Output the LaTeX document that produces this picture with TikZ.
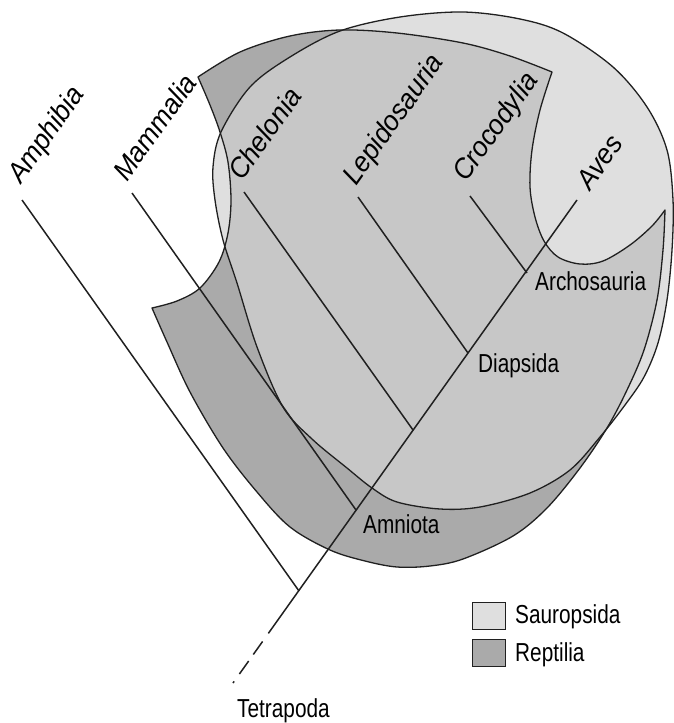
\documentclass[tikz,border=0pt]{standalone}
\usepackage{fontspec}
\setmainfont{Liberation Sans}
\newfontfamily\cladefont{Liberation Sans}[FakeStretch=0.8]
\newfontfamily\taxonfont{Liberation Sans}[FakeStretch=0.95]
\usetikzlibrary{calc}

\definecolor{sauroFill}{HTML}{DFDFDF}
\definecolor{reptFill}{HTML}{AAAAAA}
\definecolor{bothFill}{HTML}{C7C7C7}
\definecolor{inkline}{HTML}{202020}

\begin{document}
\begin{tikzpicture}[x=1pt,y=-1pt,
  outline/.style={draw=inkline, line width=1.3pt, line join=round},
  branch/.style={draw=inkline, line width=1.5pt},
  taxon/.style={anchor=base west, inner sep=0pt, rotate=54.5,
    font=\taxonfont\itshape\fontsize{28}{30}\selectfont},
  clade/.style={anchor=base west, inner sep=0pt,
    font=\cladefont\fontsize{26}{30}\selectfont},
  legendbox/.style={draw=inkline, line width=1.3pt, anchor=north west,
    minimum width=33pt, minimum height=27pt, inner sep=0pt}
]
\useasboundingbox (0,0) rectangle (674,723);

% ---- Sauropsida: smooth closed outline
\path[save path=\sauro]
  plot[smooth cycle, tension=0.55] coordinates {
    (340,31) (400,17) (463,12) (520,19) (563,33) (613,67) (647,107)
    (667,150) (673,200) (672,250) (667,300) (658,343) (644,377)
    (625,405) (600,437) (570,470) (530,493) (480,507) (440,509)
    (397,502) (372,488) (347,468) (312,439) (283,407) (257,347)
    (237,283) (223,240) (215,200) (213,167) (221,132) (250,87) (290,57)};

% ---- Reptilia: four curved sides with sharp corners
\path[save path=\rept]
  plot[smooth, tension=0.55] coordinates {
    (198,77) (240,52) (290,36) (340,30) (397,33) (463,43) (510,56) (552,72)}
  -- plot[smooth, tension=0.55] coordinates {
    (552,72) (540,110) (532,150) (530,187) (535,217) (544,241) (558,257)
    (580,264) (603,261) (630,245) (652,226) (665,210)}
  -- plot[smooth, tension=0.55] coordinates {
    (665,210) (663,250) (657,300) (644,350) (627,390) (607,428) (580,468)
    (547,508) (513,536) (463,559) (430,566) (397,567) (365,561) (330,550)
    (290,527) (257,492) (223,448) (190,392) (167,342) (152,308)}
  -- plot[smooth, tension=0.55] coordinates {
    (152,308) (177,301) (200,288) (219,262) (228,233) (231,200) (228,162)
    (220,132) (210,105) (198,77)}
  -- cycle;

\path[use path=\sauro, fill=sauroFill];
\path[use path=\rept, fill=reptFill];
\begin{scope}
  \path[use path=\rept, clip];
  \path[use path=\sauro, fill=bothFill];
\end{scope}
\path[use path=\sauro, outline];
\path[use path=\rept, outline];

% ---- cladogram
\coordinate (root)  at (233,683);
\coordinate (dashend) at (268.4,633.3);
\coordinate (aves)  at (577,200);
\coordinate (nTetra) at (299,591);
\coordinate (nAmnio) at (356,510);
\coordinate (nChel)  at (413,430);
\coordinate (nDiap)  at (468,353);
\coordinate (nArch)  at (527,273);
\coordinate (tAmph) at (22,200);
\coordinate (tMamm) at (132,193);
\coordinate (tChel) at (244,192);
\coordinate (tLepi) at (358,197);
\coordinate (tCroc) at (470,196);

\draw[branch, dash pattern=on 2pt off 9pt on 16pt off 8pt on 16pt off 10pt]
  (root) -- (dashend);
\draw[branch] (dashend) -- (aves);
\draw[branch] (tAmph) -- (nTetra);
\draw[branch] (tMamm) -- (nAmnio);
\draw[branch] (tChel) -- (nChel);
\draw[branch] (tLepi) -- (nDiap);
\draw[branch] (tCroc) -- (nArch);

% ---- terminal taxa
\node[taxon] (lAmph) at ($(tAmph)+(-1,-15)$) {Amphibia};
\node[taxon] (lMamm) at ($(tMamm)+(-5,-10)$) {Mammalia};
\node[taxon] (lChel) at ($(tChel)+(-2,-10)$) {Chelonia};
\node[taxon] (lLepi) at ($(tLepi)+(-2,-10)$) {Lepidosauria};
\node[taxon] (lCroc) at ($(tCroc)+(-4,-13)$) {Crocodylia};
\node[taxon] (lAves) at ($(aves)+(13,-8)$) {Aves};

% ---- clade names
\node[clade] (lArch) at (535,290) {Archosauria};
\node[clade] (lDiap) at (478,372) {Diapsida};
\node[clade] (lAmni) at (363,533) {Amniota};
\node[clade] (lTetr) at (237,717) {Tetrapoda};

% ---- legend
\node[legendbox, fill=sauroFill] (kSauro) at (472,602) {};
\node[legendbox, fill=reptFill]  (kRept)  at (472,639) {};
\node[clade] (lSauro) at (515,623) {Sauropsida};
\node[clade] (lRept)  at (515,661) {Reptilia};
\end{tikzpicture}
\end{document}
